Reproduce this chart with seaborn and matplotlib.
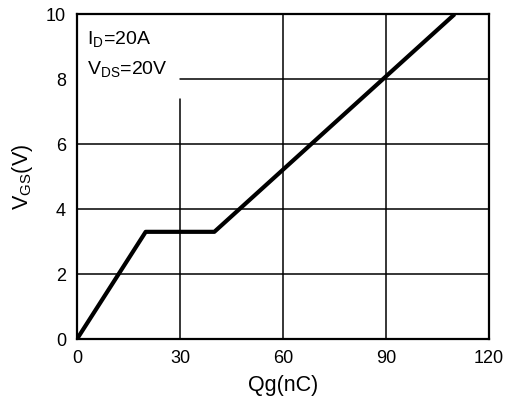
import matplotlib
matplotlib.use("Agg")
import matplotlib.pyplot as plt
import seaborn as sns
import pandas as pd

qg = [0, 20, 40, 110]
vgs = [0, 3.3, 3.3, 10]
xticks = [0, 30, 60, 90, 120]
yticks = [0, 2, 4, 6, 8, 10]

sns.set_theme(style="white")
plt.rcParams['font.family'] = ['Liberation Sans', 'DejaVu Sans']
plt.rcParams['mathtext.fontset'] = 'custom'
plt.rcParams['mathtext.rm'] = 'Liberation Sans'

fig = plt.figure(figsize=(5.08, 4.17), dpi=100)
ax = fig.add_axes([0.1516, 0.187, 0.811, 0.779])

df = pd.DataFrame({"Qg": qg, "VGS": vgs})
sns.lineplot(data=df, x="Qg", y="VGS", ax=ax, color="black", linewidth=3.0,
             zorder=3, solid_capstyle="butt")

ax.set_xlim(0, 120)
ax.set_ylim(0, 10)
ax.set_xticks(xticks)
ax.set_yticks(yticks)

# grid lines, interrupted where the annotation sits (top-left corner)
gkw = dict(color="black", linewidth=1.1, zorder=1)
for xv in xticks[1:-1]:
    if xv < 40:
        ax.axvline(xv, ymax=0.74, **gkw)
    else:
        ax.axvline(xv, **gkw)
for yv in yticks[1:-1]:
    if yv > 7:
        ax.axhline(yv, xmin=0.25, **gkw)
    else:
        ax.axhline(yv, **gkw)

for s in ax.spines.values():
    s.set_visible(True)
    s.set_color("black")
    s.set_linewidth(1.6)
    s.set_zorder(4)

ax.tick_params(axis="both", length=0, labelsize=13, colors="black", pad=8)
ax.set_xlabel("Qg(nC)", fontsize=15.5, color="black", labelpad=6)
ax.set_ylabel(r"V$_\mathregular{GS}$(V)", fontsize=15.5, color="black", labelpad=8)

ax.text(0.024, 0.92, r"I$_\mathregular{D}$=20A", transform=ax.transAxes,
        fontsize=14, color="black", va="center", ha="left", zorder=5)
ax.text(0.024, 0.83, r"V$_\mathregular{DS}$=20V", transform=ax.transAxes,
        fontsize=14, color="black", va="center", ha="left", zorder=5)

fig.savefig("out.png", dpi=100)
